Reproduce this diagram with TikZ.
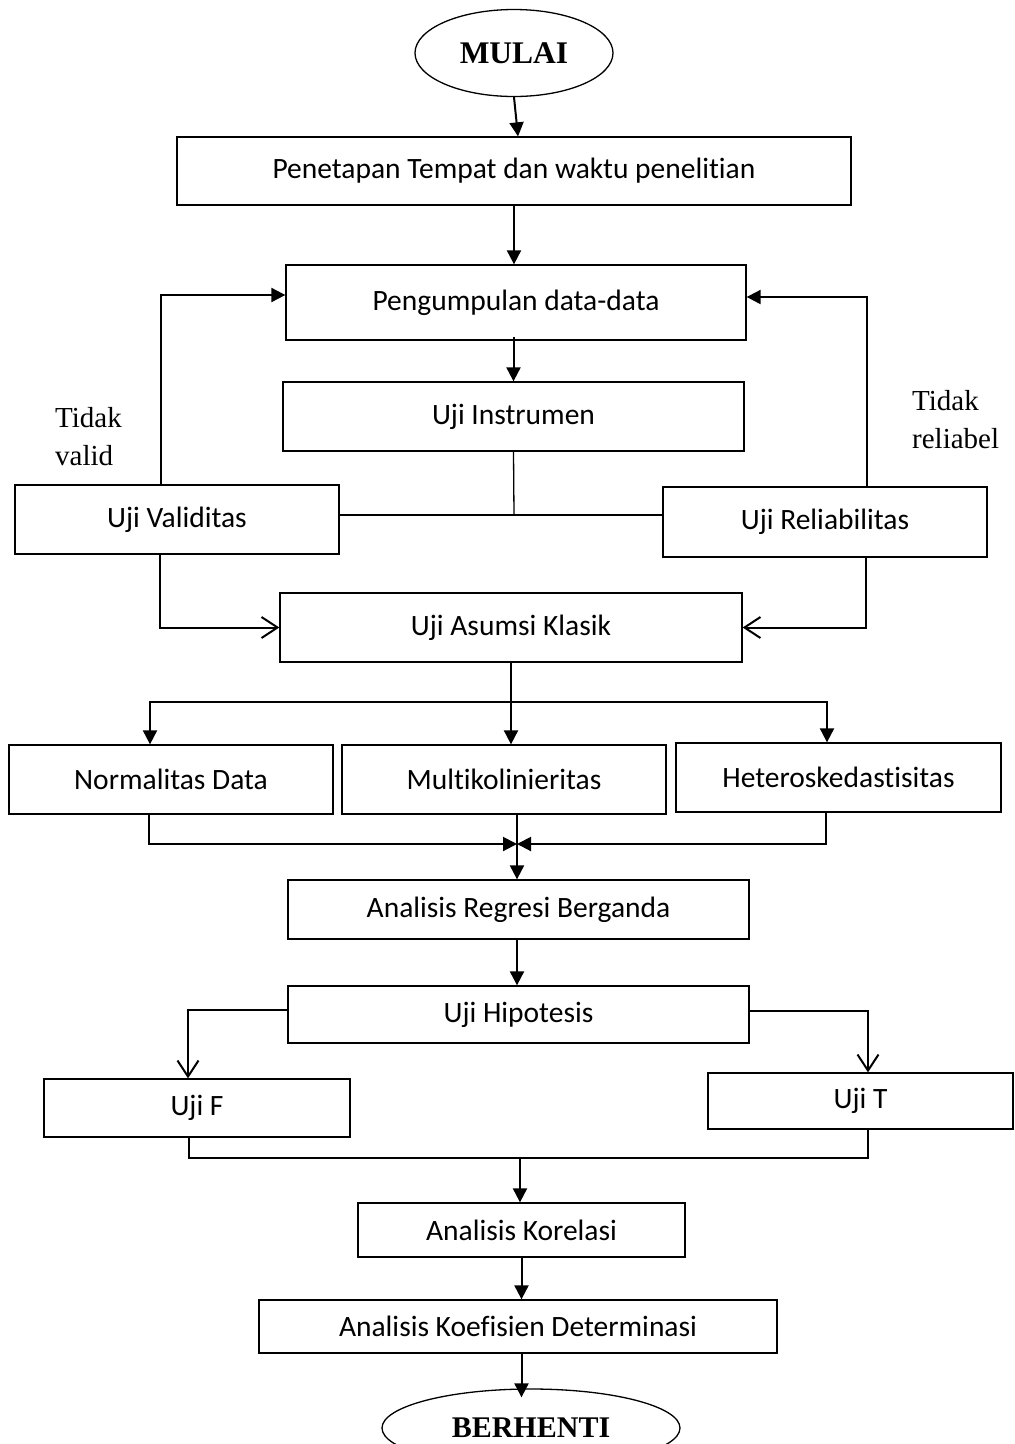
\documentclass[tikz,border=0pt]{standalone}
\usepackage{fontspec}
\setmainfont{Carlito}[Ligatures=NoCommon]
\newfontfamily\tnr{Liberation Serif}
\usetikzlibrary{arrows.meta,shapes.geometric}
\begin{document}
\begin{tikzpicture}[x=1pt,y=-1pt,
 box/.style={draw, line width=1.3pt, inner sep=0pt, font=\fontsize{29.5}{35}\selectfont},
 term/.style={draw, ellipse, line width=1.3pt, inner sep=0pt, font=\tnr\bfseries\fontsize{30}{36}\selectfont},
 lbl/.style={inner sep=0pt, align=left, font=\tnr\fontsize{29}{38}\selectfont},
 arrF/.style={line width=2pt, -{Triangle[width=14pt,length=14pt]}},
 arrO/.style={line width=2pt, -{Straight Barb[width=21pt,length=16pt,line width=2pt]}},
 thinline/.style={line width=1.3pt}
]
\useasboundingbox (0,0) rectangle (1015,1444);
\clip (0,0) rectangle (1015,1444);
\node[term, minimum width=198pt, minimum height=87pt, font=\tnr\bfseries\fontsize{31.5}{36}\selectfont] (mulai) at (514,53) {MULAI};
\node[box, minimum width=674pt, minimum height=68pt] (b1) at (514,171) {Penetapan Tempat dan waktu penelitian};
\node[box, minimum width=460pt, minimum height=75pt] (b2) at (516,302.5) {Pengumpulan data-data};
\node[box, minimum width=461pt, minimum height=69pt] (b3) at (513.5,416.5) {Uji Instrumen};
\node[box, minimum width=324pt, minimum height=69pt] (val) at (177,519.5) {Uji Validitas};
\node[box, minimum width=324pt, minimum height=70pt] (rel) at (825,522) {Uji Reliabilitas};
\node[box, minimum width=462pt, minimum height=69pt] (asm) at (511,627.5) {Uji Asumsi Klasik};
\node[box, minimum width=324pt, minimum height=69pt] (norm) at (171,779.5) {Normalitas Data};
\node[box, minimum width=324pt, minimum height=69pt] (multi) at (504,779.5) {Multikolinieritas};
\node[box, minimum width=325pt, minimum height=69pt] (het) at (838.5,777.5) {Heteroskedastisitas};
\node[box, minimum width=461pt, minimum height=59pt] (reg) at (518.5,909.5) {Analisis Regresi Berganda};
\node[box, minimum width=461pt, minimum height=57pt] (hip) at (518.5,1014.5) {Uji Hipotesis};
\node[box, minimum width=306pt, minimum height=58pt] (ujif) at (197,1108) {Uji F};
\node[box, minimum width=305pt, minimum height=56pt] (ujit) at (860.5,1101) {Uji T};
\node[box, minimum width=327pt, minimum height=54pt] (kor) at (521.5,1230) {Analisis Korelasi};
\node[box, minimum width=518pt, minimum height=53pt] (koef) at (518,1326.5) {Analisis Koefisien Determinasi};
\node[term, minimum width=298pt, minimum height=78pt] (stop) at (531,1428) {BERHENTI};
\node[lbl, anchor=north west] (tv) at (55,407) {Tidak\\valid};
\node[lbl, anchor=north west] (tr) at (912,390) {Tidak\\reliabel};
% connectors
\draw[arrF] (mulai.south) -- ([xshift=4pt]b1.north);
\draw[arrF] (b1.south) -- (b1.south |- b2.north);
\draw[arrF] ([yshift=4pt]b2.south -| b3.north) -- (b3.north);
\coordinate (j) at (514,515);
\draw[thinline] (b3.south) -- (j);
\draw[thinline] (j) -- (j -| val.east);
\draw[thinline] (j) -- (j -| rel.west);
\draw[arrF] ([xshift=-16pt]val.north) |- ([yshift=7.5pt]b2.west);
\draw[arrF] ([xshift=42pt]rel.north) |- ([yshift=5.5pt]b2.east);
\draw[arrO] ([xshift=-17pt]val.south) |- (asm.west);
\draw[arrO] ([xshift=41pt]rel.south) |- (asm.east);
\coordinate (k) at (511,702);
\draw[arrF] (asm.south) -- (asm.south |- multi.north);
\draw[arrF] (k) -| ([xshift=-21pt]norm.north);
\draw[arrF] (k) -| ([xshift=-11.5pt]het.north);
\coordinate (m) at (517,844);
\draw[arrF] ([xshift=-22pt]norm.south) |- (m);
\draw[arrF] ([xshift=-12.5pt]het.south) |- (m);
\draw[arrF] (multi.south -| m) -- (m |- reg.north);
\draw[arrF] (reg.south -| m) -- (m |- hip.north);
\draw[arrO] ([yshift=4.5pt]hip.west) -| ([xshift=-9pt]ujif.north);
\draw[arrO] ([yshift=3.5pt]hip.east) -| ([xshift=7.5pt]ujit.north);
\coordinate (n) at (520,1158);
\draw[thinline] ([xshift=-8pt]ujif.south) |- (n) -| ([xshift=7.5pt]ujit.south);
\draw[arrF] (n) -- (n |- kor.north);
\draw[arrF] (kor.south) -- (kor.south |- koef.north);
\draw[arrF, shorten >=-9pt] (koef.south -| kor.south) -- (stop.north -| kor.south);
\end{tikzpicture}
\end{document}
